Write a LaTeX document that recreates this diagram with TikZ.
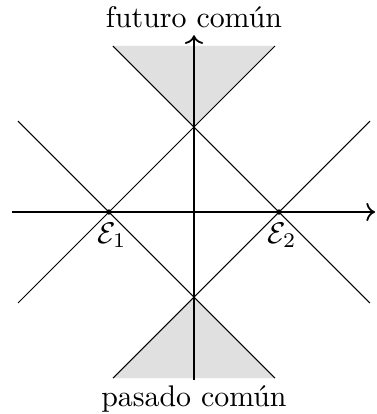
\documentclass[tikz,border=0pt]{standalone}
\usetikzlibrary{arrows.meta, positioning, calc}
\definecolor{cshade}{gray}{0.88}
\tikzset{
  every picture/.style={line width=0.4pt},
  axis/.style={->, line width=0.6pt},
  cone/.style={line width=0.35pt},
  region/.style={fill=cshade, draw=none},
  event/.style={circle, fill, inner sep=0pt, minimum size=1.8pt},
  label/.style={inner sep=2pt},
}
\begin{document}
\begin{tikzpicture}
  \useasboundingbox (-2.282,-2.376) rectangle (2.141,2.494);
  \coordinate (e1) at (-1,0);
  \coordinate (e2) at (1,0);
  \coordinate (fut) at (0,1);
  \coordinate (pas) at (0,-1);
  % ends of the light cone lines
  \coordinate (e1nw) at ($(e1)+(-1.07,1.07)$);
  \coordinate (e1sw) at ($(e1)+(-1.07,-1.07)$);
  \coordinate (e1ne) at ($(e1)+(1.953,1.953)$);
  \coordinate (e1se) at ($(e1)+(1.953,-1.953)$);
  \coordinate (e2ne) at ($(e2)+(1.07,1.07)$);
  \coordinate (e2se) at ($(e2)+(1.07,-1.07)$);
  \coordinate (e2nw) at ($(e2)+(-1.953,1.953)$);
  \coordinate (e2sw) at ($(e2)+(-1.953,-1.953)$);
  % common future and common past
  \fill[region] (fut) -- (e2nw) -- (e1ne) -- cycle;
  \fill[region] (pas) -- (e2sw) -- (e1se) -- cycle;
  % axes
  \coordinate (xl) at (-2.14,0);
  \coordinate (xr) at (2.13,0);
  \coordinate (yb) at (0,-1.976);
  \coordinate (yt) at (0,2.08);
  \draw[axis] (xl) -- (xr);
  \draw[axis] (yb) -- (yt);
  \draw[cone] (e1nw) -- (e1se);
  \draw[cone] (e1sw) -- (e1ne);
  \draw[cone] (e2ne) -- (e2sw);
  \draw[cone] (e2se) -- (e2nw);
  \node[event] (p1) at (e1) {};
  \node[event] (p2) at (e2) {};
  \node[label, below=1.5pt of e1, xshift=1pt] (l1) {$\mathcal{E}_1$};
  \node[label, below=1.5pt of e2, xshift=1pt] (l2) {$\mathcal{E}_2$};
  \node (futlabel) at (0,2.288) {futuro común};
  \node (paslabel) at (0,-2.2) {pasado común};
\end{tikzpicture}
\end{document}
